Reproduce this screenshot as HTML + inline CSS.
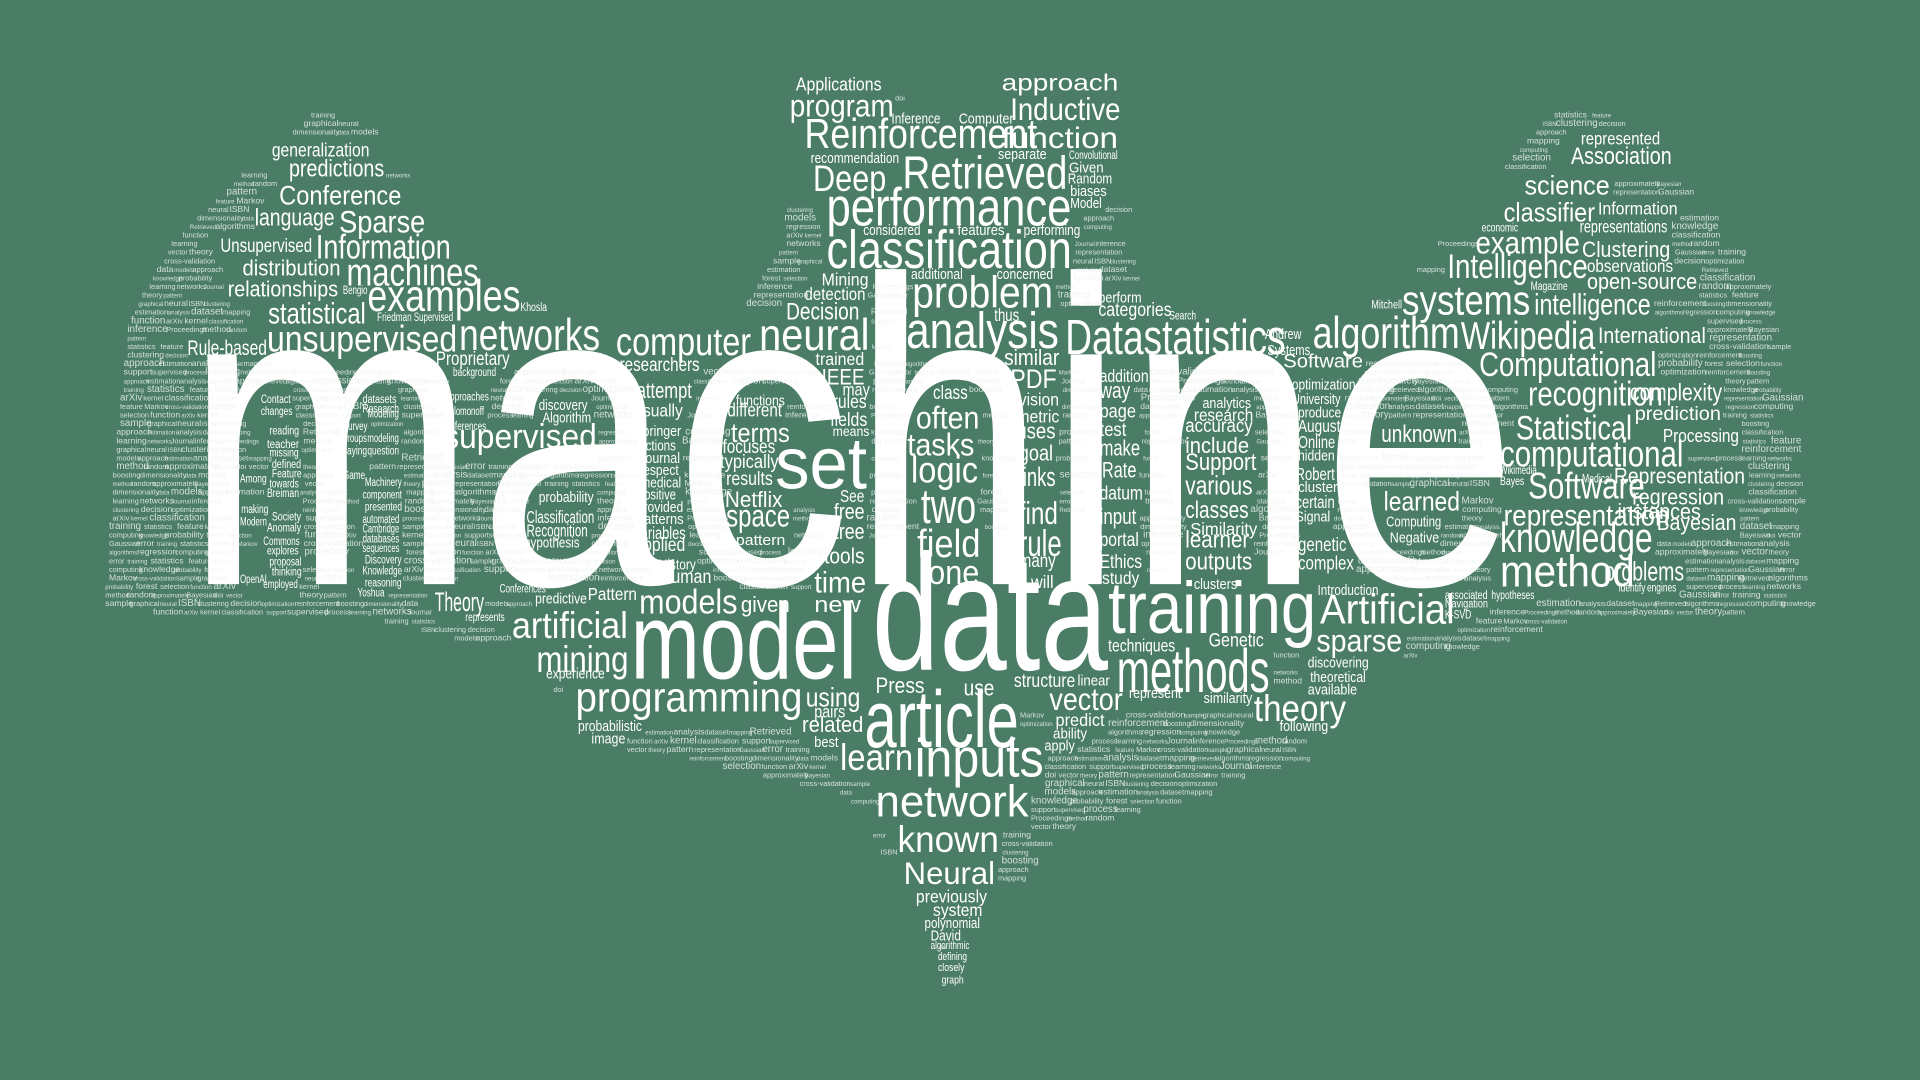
<!DOCTYPE html>
<html><head><meta charset="utf-8">
<style>
html,body{margin:0;padding:0;width:1920px;height:1080px;overflow:hidden;background:#4a7c66;}
#cloud{position:absolute;left:0;top:0;width:1568px;height:882px;transform:scale(1.22449);transform-origin:0 0;}
#cloud span{position:absolute;white-space:nowrap;color:#fff;line-height:1;font-family:"Liberation Sans Narrow","Liberation Sans",sans-serif;transform-origin:0 0;}
#cloud span.f{color:#eef3f0;opacity:.85;}
</style></head>
<body>
<div id="cloud"></div>
<script>
// word, left x, baseline y, font size, width (in 1568-wide reference units)
const words=[
["machine",150,480,355,1090],["data",712,548,135,193],["model",515,555,88,185],["article",706,610,66,126],
["Applications",650,75,15,70],["program",645,95,26,85],["approach",818,75,19,95],["Inductive",825,98,26,90],
["Reinforcement",657,122,34,190],["function",818,122,24,95],["Retrieved",737,155,38,135],["Deep",664,157,30,60],
["performance",675,185,44,200],["classification",675,220,44,200],["problem",745,252,36,115],["analysis",740,285,42,125],
["Datastatistics",870,290,40,180],["computer",503,290,32,110],["neural",620,287,36,90],["networks",375,287,36,115],
["examples",300,255,36,125],["machines",283,233,32,108],["Information",258,212,28,110],["Sparse",277,190,26,70],
["Conference",228,168,22,100],["language",208,185,20,65],["predictions",236,145,20,78],["generalization",222,130,16,80],
["Unsupervised",180,208,16,75],["distribution",198,225,18,80],["relationships",186,242,18,90],["statistical",219,265,24,80],
["unsupervised",218,288,30,155],["Rule-based",153,290,17,65],["supervised",362,367,28,125],["set",633,400,60,75],
["logic",744,395,30,55],["often",748,350,26,52],["tasks",741,372,26,55],["two",752,428,40,45],["field",749,455,32,52],
["one",758,478,28,42],["training",905,518,60,170],["methods",912,565,50,125],["theory",1024,590,30,75],["vector",857,580,26,60],
["Artificial",1078,510,34,110],["sparse",1075,532,26,70],["method",1225,480,36,110],["knowledge",1225,452,34,125],
["representation",1228,430,24,135],["Software",1248,408,30,95],["computational",1225,382,30,150],["Statistical",1238,360,28,95],
["recognition",1248,332,28,110],["Computational",1208,308,28,145],["Wikipedia",1193,285,32,110],["algorithm",1072,285,36,120],
["systems",1145,258,34,105],["intelligence",1253,258,24,95],["Intelligence",1182,228,28,115],["example",1205,207,26,85],
["Clustering",1292,210,18,72],["open-source",1296,236,18,90],["classifier",1228,182,22,75],["science",1245,160,22,70],
["Association",1283,135,20,82],["represented",1291,118,14,65],["International",1305,280,18,88],["complexity",1331,328,20,75],
["prediction",1335,345,16,70],["Processing",1358,362,15,62],["Representation",1318,395,18,107],["regression",1333,412,18,75],
["instances",1321,424,18,68],["Bayesian",1353,433,18,65],["problems",1310,475,22,65],["unknown",1128,362,20,62],
["learned",1130,418,22,62],["Support",968,385,20,58],["various",968,405,22,55],["classes",968,424,20,52],["include",968,370,18,52],
["learner",968,448,20,52],["outputs",968,466,20,55],["find",832,428,26,32],["rule",832,455,30,35],["links",832,398,22,30],
["PDF",825,318,22,38],["similar",820,298,18,45],["network",715,668,36,125],["inputs",747,635,44,105],["learn",686,630,30,60],
["known",733,697,30,83],["Neural",738,722,26,75],["previously",748,737,14,58],["system",762,748,14,40],["polynomial",755,758,12,45],
["David",760,768,12,25],["algorithmic",760,776,9,32],["defining",766,785,9,24],["closely",766,794,9,22],["graph",769,804,9,18],
["programming",470,582,34,185],["mining",438,550,30,75],["artificial",418,522,30,95],["models",522,502,28,80],["Theory",355,500,22,40],
["time",665,485,24,42],["new",665,500,18,38],["using",658,578,22,45],["related",655,598,18,50],["terms",597,362,22,48],
["space",593,430,26,52],["Netflix",592,414,18,47],["Classification",430,427,14,55],["Recognition",430,438,14,50],
["probability",440,410,12,45],["attempt",520,325,18,45],["researchers",506,305,16,65],["Proprietary",356,300,16,60],
["IEEE",671,314,18,35],["Decision",642,262,20,60],["Mining",671,233,14,38],["detection",657,245,14,50],["Press",715,566,18,40],
["structure",828,563,16,50],["predict",862,593,14,40],["use",787,568,18,25],["Genetic",987,530,16,45],
["Inference",728,101,12,40],["Computer",783,101,12,45],["recommendation",662,133,12,72],["separate",815,130,12,40],
["Convolutional",873,131,10,40],["Given",873,141,12,28],["Random",872,150,12,36],["biases",874,160,12,30],["Model",874,170,12,26],
["considered",705,192,12,47],["features",782,192,12,38],["performing",836,192,12,46],["additional",744,228,12,42],
["concerned",814,228,12,46],["thus",812,262,14,20],["categories",897,260,16,60],["perform",897,247,12,35],["trained",666,298,14,40],
["rules",680,335,16,28],["fields",678,350,16,30],["may",688,323,14,22],["means",680,357,11,30],["class",762,328,16,28],
["vision",832,331,14,33],["metric",830,345,14,35],["uses",830,358,18,32],["goal",832,376,18,28],["make",898,372,18,33],
["test",898,358,16,22],["way",898,325,18,25],["addition",898,312,14,40],["page",898,343,16,30],["Rate",900,390,18,28],
["datum",898,410,16,35],["input",898,428,18,30],["portal",898,448,16,32],["Ethics",898,466,16,35],["study",900,477,14,30],
["techniques",905,532,14,55],["many",832,465,16,30],["will",842,480,14,18],["accuracy",968,355,16,55],["research",975,344,14,48],
["analytics",982,333,12,40],["Similarity",972,437,14,55],["clusters",975,481,12,35],["University",1055,330,12,40],
["optimization",1055,318,12,52],["Software",1048,302,16,65],["produce",1060,341,12,35],["August",1060,353,14,35],
["Online",1060,366,14,30],["hidden",1060,376,12,30],["Robert",1058,392,14,32],["cluster",1060,402,12,32],["certain",1058,415,14,32],
["Signal",1058,426,12,28],["genetic",1060,452,16,40],["complex",1060,467,16,46],["Introduction",1076,486,12,50],
["discovering",1068,545,12,50],["theoretical",1070,557,12,45],["available",1068,567,12,40],["following",1045,597,12,40],
["similarity",983,574,12,40],["represent",922,570,12,43],["linear",880,560,12,26],["apply",853,613,12,25],["ability",860,603,12,28],
["best",665,610,12,20],["pairs",665,586,14,25],["image",483,607,12,28],["probabilistic",472,597,12,52],["experience",446,554,12,48],
["Pattern",480,490,14,40],["human",541,478,16,40],["given",605,500,18,40],["predictive",437,493,12,42],["History",538,465,12,30],
["applied",518,452,16,42],["variables",518,440,14,42],["patterns",520,428,12,38],["provided",520,418,12,38],["Positive",520,408,12,32],
["medical",523,398,12,33],["respect",522,388,12,32],["Journal",522,378,12,33],["actions",522,368,12,30],["usually",518,340,14,40],
["Springer",518,356,12,38],["different",594,342,16,45],["functions",601,331,12,40],["typically",588,384,16,48],["focuses",590,372,16,43],
["results",593,398,16,38],["pattern",601,445,12,40],["free",681,424,18,25],["tree",681,440,18,25],["tools",673,460,18,33],
["See",686,410,14,20],["Algorithm",443,345,12,40],["discovery",440,335,12,40],["hypothesis",428,447,12,45],
["Search",955,262,10,22],["Mitchell",1120,253,10,25],["Andrew",1033,277,12,30],["Systems",1035,290,12,35],
["Information",1305,175,14,65],["representations",1290,190,14,72],["observations",1296,222,14,70],["associated",1180,490,10,35],
["Computing",1132,430,12,45],["Negative",1135,443,12,40],["Wikimedia",1225,388,10,30],["Bayes",1225,397,10,20],
["Navigation",1180,497,10,35],["K-SVD",1180,506,10,22],["hypotheses",1218,490,10,35],["engines",1345,484,10,24],
["identify",1322,484,10,22],["Medical",1292,395,10,24],["economic",1210,190,10,30],["Magazine",1250,238,10,30],
["Contact",213,330,10,24],["changes",213,340,10,26],["reading",220,356,10,24],["teacher",218,367,10,26],["missing",220,374,10,24],
["defined",222,383,10,24],["Feature",222,391,10,24],["towards",220,399,10,24],["Breiman",218,407,10,26],["Society",222,426,10,24],
["Anomaly",218,435,10,28],["Commons",215,446,10,30],["explores",218,454,10,26],["proposal",220,463,10,26],["thinking",222,471,10,24],
["employed",215,481,10,28],["Among",196,395,10,22],["making",197,420,10,22],["Modern",196,430,10,22],["OpenAI",196,477,10,22],
["Survey",280,352,10,20],["groups",280,362,10,20],["playing",278,372,10,22],["Game",280,392,10,18],["Machinery",298,398,10,30],
["component",296,408,10,32],["presented",298,418,10,30],["automated",296,428,10,30],["Cambridge",296,436,10,30],
["databases",296,444,10,30],["sequences",296,452,10,30],["Discovery",298,461,10,30],["Knowledge",296,470,10,32],
["reasoning",298,480,10,30],["Yoshua",292,488,10,22],["question",300,372,10,26],["modeling",300,362,10,26],["Modeling",300,342,10,26],
["Research",296,338,10,30],["datasets",296,330,10,28],["Solomonoff",363,340,10,32],["References",363,352,10,34],
["Approaches",363,328,10,36],["background",370,308,10,35],["Conferences",408,485,10,38],["represents",380,508,10,32],
["Friedman",308,263,10,28],["Supervised",338,263,10,32],["Bengio",280,241,10,20],["Khosla",425,255,10,22]
];
const filler=["learning","Retrieved","neural","Bayesian","function","data","training","networks","algorithms","ISBN","doi","arXiv",
"models","statistics","Journal","regression","clustering","vector","kernel","approach","feature","inference","computing",
"decision","theory","classification","estimation","Markov","Proceedings","knowledge","optimization","pattern","support",
"analysis","cross-validation","method","probability","reinforcement","representation","supervised","dataset","sample",
"random","forest","boosting","Gaussian","process","mapping","graphical","approximately","selection","dimensionality","error"];
const fsizes=[6,5,7,6,5,8,6,7,5,6];
const poly=[[265,85],[310,110],[345,160],[380,220],[470,262],[600,262],[640,200],[640,60],[740,60],[745,95],[810,95],[820,55],[915,55],[925,200],[960,262],[1080,250],[1150,228],[1200,170],[1260,100],[1290,78],[1330,100],[1380,150],[1425,200],[1455,260],[1470,350],[1478,500],[1300,505],[1160,540],[1120,545],[1090,610],[1000,650],[870,680],[800,760],[780,810],[760,760],[720,700],[690,650],[560,620],[470,610],[440,540],[300,505],[85,500],[88,440],[95,350],[105,260],[140,200],[190,150]];

const root=document.getElementById('cloud');
function inside(x,y){let c=false;for(let i=0,j=poly.length-1;i<poly.length;j=i++){const[xi,yi]=poly[i],[xj,yj]=poly[j];if(((yi>y)!=(yj>y))&&(x<(xj-xi)*(y-yi)/(yj-yi)+xi))c=!c;}return c;}
const boxes=[];
words.forEach(function(w,i){
  const el=document.createElement('span');
  
  
  el.textContent=w[0];
  el.style.left=w[1]+'px';el.style.top=(w[2]-0.85*w[3])+'px';el.style.fontSize=w[3]+'px';
  root.appendChild(el);
  const ow=el.offsetWidth||1;
  el.style.transform='scaleX('+(w[4]/ow)+')';
  if(i>0&&w[3]>=10)boxes.push([w[1]-1,w[2]-0.78*w[3]-1,w[1]+w[4]+1,w[2]+0.22*w[3]+1]);
});
let k=0;
for(let y=62;y<=812;y+=7){
  let x=80;
  while(x<1490){
    const fs=fsizes[k%fsizes.length];const t=filler[(k*7)%filler.length];
    const fw=t.length*fs*0.40+1;
    const r=[x,y-0.75*fs,x+fw,y+0.2*fs];
    let ok=inside(x,y-fs*0.3)&&inside(x+fw,y-fs*0.3)&&inside(x+fw/2,y-fs*0.3);
    if(ok){for(const b of boxes){if(r[0]<b[2]&&r[2]>b[0]&&r[1]<b[3]&&r[3]>b[1]){ok=false;break;}}}
    if(ok){
      const el=document.createElement('span');
      el.className='f';
      
      
      el.textContent=t;el.style.left=x+'px';el.style.top=(y-0.85*fs)+'px';el.style.fontSize=fs+'px';
      root.appendChild(el);
      x+=fw+2;k++;
    } else {x+=3;}
  }
  k+=3;
}
</script>
</body></html>
